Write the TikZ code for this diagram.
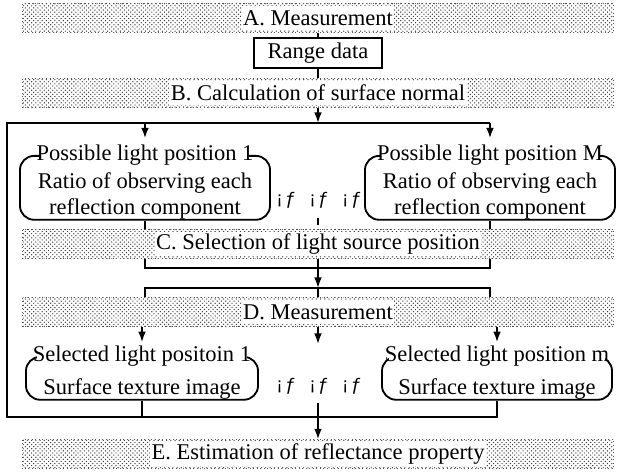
\documentclass[tikz,border=0pt]{standalone}
\usepackage{fontspec}
\setmainfont{Liberation Serif}
\newfontfamily\dotsfont{Liberation Mono}
\usetikzlibrary{positioning,arrows.meta,patterns}
\definecolor{bandDots}{HTML}{3C3C3C}
\definecolor{bandEdge}{HTML}{555555}

\begin{document}
\begin{tikzpicture}[
    x=0.025cm, y=-0.025cm,
    font=\fontsize{16}{18}\selectfont,
    band/.style={
        rectangle, draw=none,
        minimum width=14.75cm, minimum height=0.72cm,
        pattern=crosshatch dots, pattern color=bandDots
    },
    bandedge/.style={draw=bandEdge, dotted, line width=0.5pt},
    stepname/.style={fill=white, inner xsep=1pt, inner ysep=0pt, minimum height=0.62cm},
    wire/.style={line width=1.3pt},
    arrow/.style={wire, -{Latex[length=7.5pt,width=5.5pt]}},
    rangebox/.style={
        rectangle, draw, line width=1.3pt,
        minimum width=3.2cm, minimum height=0.75cm
    },
    candbox/.style={
        rectangle, draw, line width=1.3pt, rounded corners=10pt,
        align=center, inner xsep=0pt, inner ysep=0.5pt, anchor=north
    },
    boxhead/.style={fill=white, inner xsep=-3pt, inner ysep=0.5pt, anchor=base},
    ellipsis/.style={font=\dotsfont\fontsize{13}{13}\selectfont}
]
  \useasboundingbox (0,0) rectangle (632,472);

  % Bands
  \node[band] (bandA) at (318,18) {};
  \node[stepname] (stepA) at (bandA) {A. Measurement};
  \node[band] (bandB) at (318,93) {};
  \node[stepname] (stepB) at (bandB) {B. Calculation of surface normal};
  \node[band] (bandC) at (318,244) {};
  \node[stepname] (stepC) at (bandC) {C. Selection of light source position};
  \node[band] (bandD) at (318,312) {};
  \node[stepname] (stepD) at (bandD) {D. Measurement};
  \node[band] (bandE) at (318,454) {};
  \node[stepname] (stepE) at (bandE) {E. Estimation of reflectance property};
  \foreach \b in {bandA,bandB,bandC,bandD,bandE}
    \draw[bandedge] (\b.south west) rectangle (\b.north east);

  % Nodes
  \node[rangebox] (range) at (318,53) {Range data};

  \node[candbox, minimum width=6.25cm] (poss1) at (145,155)
      {\rule{0pt}{5pt}\\Ratio of observing each\\reflection component};
  \node[boxhead] (poss1t) at ([yshift=-4pt]poss1.north) {Possible light position 1};
  \node[candbox, minimum width=6.25cm] (possM) at (490,155)
      {\rule{0pt}{5pt}\\Ratio of observing each\\reflection component};
  \node[boxhead] (possMt) at ([yshift=-4pt]possM.north) {Possible light position M};
  \node[ellipsis] (dotsU) at (318,200) {¡ƒ ¡ƒ ¡ƒ};

  \node[candbox, minimum width=5.8cm] (sel1) at (142,356)
      {\rule{0pt}{5pt}\\[3pt]Surface texture image};
  \node[boxhead] (sel1t) at ([yshift=-4pt]sel1.north) {Selected light positoin 1};
  \node[candbox, minimum width=5.75cm] (selM) at (497,356)
      {\rule{0pt}{5pt}\\[3pt]Surface texture image};
  \node[boxhead] (selMt) at ([yshift=-4pt]selM.north) {Selected light position m};
  \node[ellipsis] (dotsL) at (318,386) {¡ƒ ¡ƒ ¡ƒ};

  \coordinate (leftTop) at (7,123);
  \coordinate (rightTop) at (490,123);
  \coordinate (leftBot) at (7,417);
  \coordinate (joinC) at (318,268);
  \coordinate (splitD) at (318,288);
  \coordinate (tipD) at (318,344);

  % Measurement to surface normal
  \draw[wire] (bandA.south) -- (range.north);
  \draw[wire] (range.south) -- (bandB.north);

  % Surface normal to possible positions (outer loop too)
  \draw[arrow] (bandB.south) -- (bandB.south |- leftTop);
  \draw[wire] (rightTop) -- (leftTop) -- (leftBot) -| (selM.south);
  \draw[arrow, shorten >=4pt] (poss1.north |- leftTop) -- (poss1t.north);
  \draw[arrow, shorten >=4pt] (rightTop) -- (possMt.north);

  % Possible positions to selection
  \draw[wire] (poss1.south) -- (poss1.south |- bandC.north);
  \draw[wire] (possM.south) -- (possM.south |- bandC.north);
  \draw[wire, shorten <=3.5pt, shorten >=3pt] (dotsU.south) -- (dotsU.south |- bandC.north);

  % Selection to measurement
  \draw[wire] (poss1.south |- bandC.south) |- (joinC) -| (possM.south |- bandC.south);
  \draw[arrow] (bandC.south) -- (splitD);
  \draw[wire] (poss1.south |- bandD.north) |- (splitD) -| (possM.south |- bandD.north);
  \draw[wire] (splitD) -- (bandD.north);

  % Measurement to selected positions
  \draw[arrow, shorten >=2pt] (bandD.south -| sel1.north) -- (sel1t.north);
  \draw[arrow] (bandD.south) -- (tipD);
  \draw[arrow, shorten >=2pt] (bandD.south -| selM.north) -- (selMt.north);

  % Selected positions to estimation
  \draw[wire] (sel1.south) -- (sel1.south |- leftBot);
  \draw[arrow, shorten <=3pt] (dotsL.south) -- (bandE.north);

\end{tikzpicture}
\end{document}
